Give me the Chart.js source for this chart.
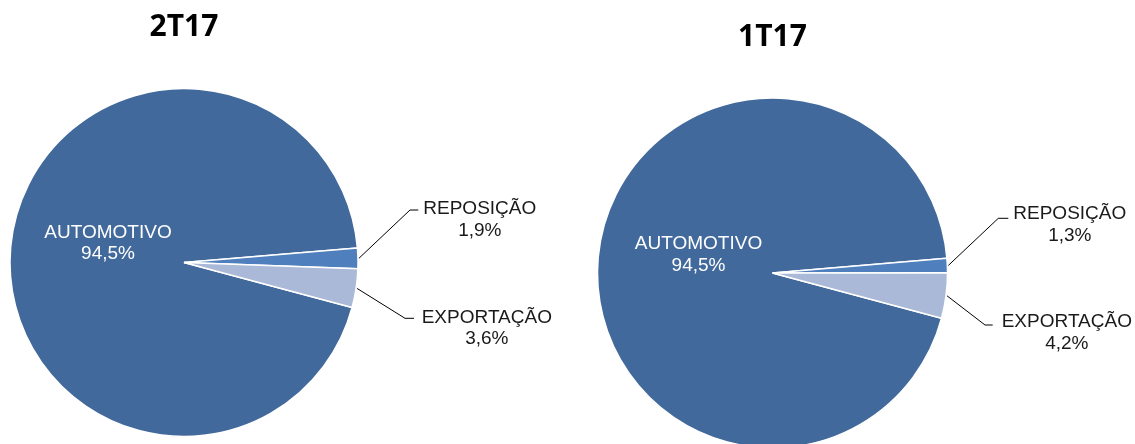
<!DOCTYPE html>
<html><head><meta charset="utf-8">
<script src="https://cdn.jsdelivr.net/npm/chart.js@4/dist/chart.umd.min.js"></script>
<style>
html,body{margin:0;padding:0;background:#fff;overflow:hidden;width:1135px;height:444px;}
.box{position:absolute;top:0;height:460px;}
#b1{left:0;width:580px;}
#b2{left:580px;width:555px;}
</style></head><body>
<div class="box" id="b1"><canvas id="c1" width="580" height="460"></canvas></div>
<div class="box" id="b2"><canvas id="c2" width="555" height="460"></canvas></div>
<script>
const categories = ['AUTOMOTIVO', 'REPOSIÇÃO', 'EXPORTAÇÃO'];
const periods = ['2T17', '1T17'];
const share2T17 = [94.5, 1.9, 3.6];
const share1T17 = [94.5, 1.3, 4.2];
const sliceColors = ['#41699B', '#4F80BD', '#A9B9D7'];

const fmt = v => v.toFixed(1).replace('.', ',') + '%';

const pieDecor = {
  id: 'pieDecor',
  afterDraw(chart, args, o) {
    const ctx = chart.ctx;
    const arcs = chart.getDatasetMeta(0).data;
    const ds = chart.data.datasets[0];
    const labels = chart.data.labels;
    const cx = arcs[0].x, cy = arcs[0].y, R = arcs[0].outerRadius;
    ctx.save();
    // title
    ctx.font = 'bold 30px "Open Sans", "Liberation Sans", sans-serif';
    ctx.fillStyle = '#000';
    ctx.textAlign = 'center';
    ctx.textBaseline = 'alphabetic';
    ctx.fillText(o.title, cx, o.titleBaseline);
    // inner label
    ctx.font = '19px "Liberation Sans", Arial, sans-serif';
    ctx.fillStyle = '#fff';
    ctx.fillText(labels[0], cx + o.inner[0], cy + o.inner[1]);
    ctx.fillText(fmt(ds.data[0]), cx + o.inner[0], cy + o.inner[1] + o.lineGap);
    // outer labels with leaders
    o.outer.forEach((p, k) => {
      const i = k + 1;
      const a = arcs[i];
      const mid = (a.startAngle + a.endAngle) / 2;
      const sx = cx + (R + 1) * Math.cos(mid);
      const sy = cy + (R + 1) * Math.sin(mid);
      const ex = cx + p.elbow[0], ey = cy + p.elbow[1];
      ctx.strokeStyle = '#000';
      ctx.lineWidth = 1;
      ctx.beginPath();
      ctx.moveTo(sx, sy);
      ctx.lineTo(ex, ey);
      ctx.lineTo(cx + p.endX, ey);
      ctx.stroke();
      const l1 = labels[i], l2 = fmt(ds.data[i]);
      const w = Math.max(ctx.measureText(l1).width, ctx.measureText(l2).width);
      const tx = cx + p.textX + w / 2;
      const ty = cy + p.base;
      ctx.fillStyle = '#1a1a1a';
      ctx.fillText(l1, tx, ty);
      ctx.fillText(l2, tx, ty + o.lineGap);
    });
    ctx.restore();
  }
};

function makePie(id, values, padding, radius, decor) {
  return new Chart(document.getElementById(id), {
    type: 'pie',
    data: {
      labels: categories,
      datasets: [{
        data: values,
        backgroundColor: sliceColors,
        borderColor: '#ffffff',
        borderWidth: 1.5
      }]
    },
    options: {
      responsive: false,
      animation: false,
      rotation: 105,
      radius: radius,
      layout: { padding: padding },
      plugins: {
        legend: { display: false },
        tooltip: { enabled: false },
        title: { display: false },
        pieDecor: decor
      }
    },
    plugins: [pieDecor]
  });
}

makePie('c1', share2T17, { left: 10, right: 222, top: 88.5, bottom: 23.5 }, 174, {
  title: periods[0], titleBaseline: 36,
  inner: [-76, -25], lineGap: 21.5,
  outer: [
    { elbow: [226, -52.5], endX: 234.3, textX: 239.3, base: -48.5 },
    { elbow: [221, 55.8], endX: 230, textX: 237.7, base: 60.2 }
  ]
});

makePie('c2', share1T17, { left: 17.5, right: 187.5, top: 98, bottom: 12 }, 175, {
  title: periods[1], titleBaseline: 46,
  inner: [-74, -23.7], lineGap: 21.5,
  outer: [
    { elbow: [225.8, -54.7], endX: 235.8, textX: 240.8, base: -53.7 },
    { elbow: [212.5, 52], endX: 220.2, textX: 229.2, base: 54.3 }
  ]
});
</script>
</body></html>
